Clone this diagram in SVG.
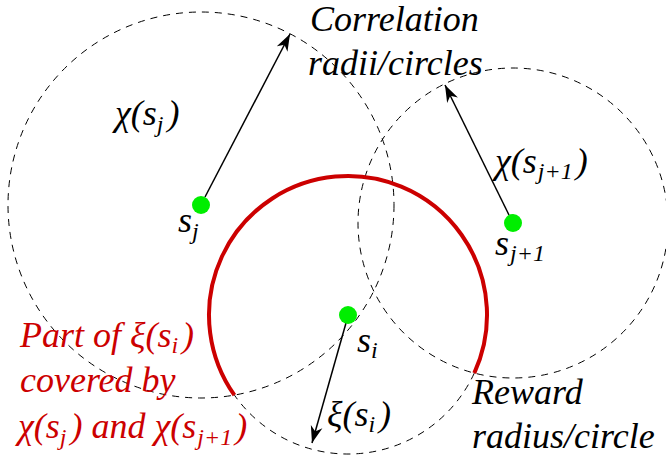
<svg xmlns="http://www.w3.org/2000/svg" width="666" height="456" viewBox="0 0 666 456">
<defs>
<style>
.dash{fill:none;stroke:#000;stroke-width:1;stroke-dasharray:7 6}
.reward{fill:none;stroke:#cc0000;stroke-width:4}
.dot{fill:#00ee00}
text{font-family:'Liberation Serif','Times New Roman',serif;font-style:italic;font-size:36px;fill:#000}
text.red{fill:#cc0000}
tspan.sub{font-size:24px}
.arr{fill:none;stroke:#000;stroke-width:1.5;marker-end:url(#ah)}
</style>
<marker id="ah" markerUnits="userSpaceOnUse" markerWidth="20" markerHeight="14" viewBox="-18 -7 20 14" refX="0" refY="0" orient="auto">
<path d="M0,0 L-17,-6 L-12,0 L-17,6 Z" fill="#000"/>
</marker>
</defs>
<rect width="666" height="456" fill="#fff"/>
<g id="circles">
<circle class="dash" cx="201" cy="205" r="193"/>
<circle class="dash" cx="513" cy="223" r="155"/>
<path class="dash" d="M474.3,373.1 A139,139 0 0 1 234.4,395.1"/>
<path class="reward" d="M234.4,395.1 A139,139 0 1 1 474.3,373.1"/>
</g>
<g id="connectors">
<line class="arr" x1="205" y1="197" x2="290" y2="34"/>
<line class="arr" x1="509" y1="215" x2="445" y2="85"/>
<line class="arr" x1="346" y1="323" x2="312" y2="443"/>
</g>
<g id="node-sj">
<circle class="dot" cx="201" cy="205" r="9"/>
<text x="178" y="232">s<tspan class="sub" dy="7">j</tspan></text>
</g>
<g id="node-sj1">
<circle class="dot" cx="513" cy="223" r="9"/>
<text x="495" y="255">s<tspan class="sub" dy="6" dx="1">j+1</tspan></text>
</g>
<g id="node-si">
<circle class="dot" cx="348" cy="315" r="9"/>
<text x="357" y="352">s<tspan class="sub" dy="6">i</tspan></text>
</g>
<g id="labels">
<text x="310" y="31">Correlation</text>
<text x="308" y="75">radii/circles</text>
<text x="115" y="125">χ(s<tspan class="sub" dy="7">j</tspan><tspan dy="-7" dx="4">)</tspan></text>
<text x="495" y="173">χ(s<tspan class="sub" dy="6" dx="1">j+1</tspan><tspan dy="-6" dx="3">)</tspan></text>
<text x="327" y="426">ξ(s<tspan class="sub" dy="6">i</tspan><tspan dy="-6" dx="4">)</tspan></text>
<text x="472" y="404">Reward</text>
<text x="472" y="448">radius/circle</text>
<text class="red" x="20" y="347">Part of ξ(s<tspan class="sub" dy="6">i</tspan><tspan dy="-6" dx="4">)</tspan></text>
<text class="red" x="20" y="392">covered by</text>
<text class="red" x="18" y="438">χ(s<tspan class="sub" dy="7">j</tspan><tspan dy="-7" dx="4">) and χ(s</tspan><tspan class="sub" dy="7" dx="1">j+1</tspan><tspan dy="-7" dx="3">)</tspan></text>
</g>
</svg>
